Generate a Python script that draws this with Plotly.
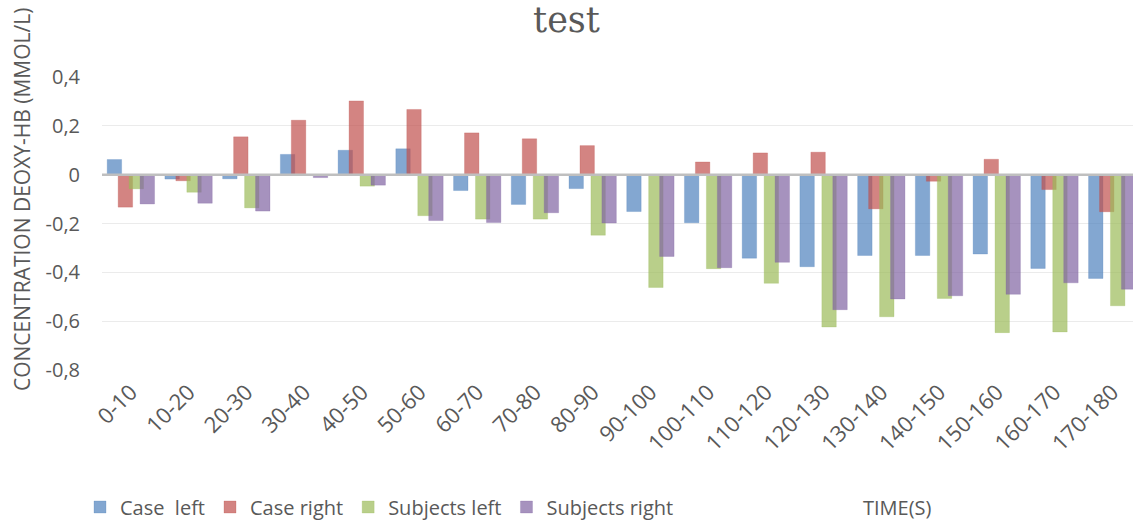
import plotly.graph_objects as go

# Time windows (seconds)
time_bins = ["0-10", "10-20", "20-30", "30-40", "40-50", "50-60", "60-70", "70-80",
             "80-90", "90-100", "100-110", "110-120", "120-130", "130-140", "140-150",
             "150-160", "160-170", "170-180"]

# Mean change in deoxy-Hb concentration (mmol/L) per window
case_left = [0.062, -0.018, -0.017, 0.083, 0.100, 0.106, -0.065, -0.122, -0.057,
             -0.151, -0.197, -0.342, -0.377, -0.331, -0.331, -0.325, -0.384, -0.425]
case_right = [-0.133, -0.025, 0.155, 0.223, 0.302, 0.267, 0.171, 0.147, 0.119,
              -0.003, 0.052, 0.089, 0.092, -0.140, -0.027, 0.063, -0.061, -0.152]
subjects_left = [-0.058, -0.072, -0.136, 0.0, -0.047, -0.168, -0.182, -0.182, -0.248,
                 -0.462, -0.385, -0.445, -0.624, -0.582, -0.507, -0.647, -0.644, -0.537]
subjects_right = [-0.120, -0.117, -0.149, -0.012, -0.043, -0.188, -0.196, -0.156, -0.198,
                  -0.335, -0.381, -0.359, -0.553, -0.509, -0.496, -0.490, -0.443, -0.469]

# Value axis ticks (comma decimal separator, plain hyphen for negatives)
y_tick_values = [-0.8, -0.6, -0.4, -0.2, 0, 0.2, 0.4]
y_tick_labels = ["-0,8", "-0,6", "-0,4", "-0,2", "0", "0,2", "0,4"]

series_names = ["Case\u00a0 left", "Case right", "Subjects left", "Subjects right"]
series_values = [case_left, case_right, subjects_left, subjects_right]
series_rgb = [(79, 129, 189), (192, 80, 77), (155, 187, 89), (128, 100, 162)]

FONT = "Open Sans"
TEXT_COLOR = "#595959"

BAR_WIDTH = 0.25
BAR_STEP = 0.19
FIRST_OFFSET = -0.41

x_idx = list(range(len(time_bins)))

fig = go.Figure()
for k, (name, vals, (r, g, b)) in enumerate(zip(series_names, series_values, series_rgb)):
    fig.add_trace(go.Bar(
        name=name,
        x=x_idx,
        y=vals,
        width=BAR_WIDTH,
        offset=FIRST_OFFSET + k * BAR_STEP,
        marker=dict(
            color=f"rgba({r},{g},{b},0.7)",
            line=dict(color=f"rgba({r},{g},{b},0.25)", width=1),
        ),
    ))

# category axis baseline at zero, drawn over the bars
fig.add_shape(type="line", xref="paper", yref="y", x0=0, x1=1, y0=0, y1=0,
              line=dict(color="#BFBFBF", width=2.5), layer="above")

fig.update_layout(
    width=1133,
    height=521,
    margin=dict(l=102, r=0, t=77, b=151),
    paper_bgcolor="white",
    plot_bgcolor="white",
    barmode="overlay",
    showlegend=True,
    title=dict(
        text="test",
        x=0.5, xref="container", xanchor="center",
        y=1 - 20 / 521, yref="container", yanchor="middle",
        font=dict(family="DejaVu Serif", size=35, color=TEXT_COLOR),
    ),
    legend=dict(
        orientation="h",
        xref="container", yref="container",
        x=80 / 1133, xanchor="left",
        y=1 - 507 / 521, yanchor="middle",
        font=dict(family=FONT, size=20, color=TEXT_COLOR),
        itemwidth=30,
        traceorder="normal",
        bgcolor="rgba(0,0,0,0)",
    ),
    xaxis=dict(
        tickmode="array",
        tickvals=x_idx,
        ticktext=time_bins,
        tickangle=-45,
        range=[-0.5, 17.36],
        showgrid=False,
        zeroline=False,
        showline=False,
        ticks="",
        ticklabelstandoff=4,
        tickfont=dict(family=FONT, size=22, color=TEXT_COLOR),
    ),
    yaxis=dict(
        range=[-0.8, 0.4],
        tickmode="array",
        tickvals=y_tick_values,
        ticktext=y_tick_labels,
        showgrid=True,
        gridcolor="#EBEBEB",
        gridwidth=1.2,
        zeroline=False,
        showline=False,
        ticks="",
        ticklabelstandoff=21,
        tickfont=dict(family=FONT, size=20, color=TEXT_COLOR),
    ),
    annotations=[
        dict(
            text="CONCENTRATION DEOXY-HB (MMOL/L)",
            xref="paper", yref="paper",
            x=(22 - 102) / 1031, y=(370 - 200) / 293,
            xanchor="center", yanchor="middle",
            textangle=-90, showarrow=False,
            font=dict(family=FONT, size=21, color=TEXT_COLOR),
        ),
        dict(
            text="TIME(S)",
            xref="paper", yref="paper",
            x=(897 - 102) / 1031, y=(370 - 508) / 293,
            xanchor="center", yanchor="middle",
            showarrow=False,
            font=dict(family=FONT, size=20, color=TEXT_COLOR),
        ),
    ],
)

fig.write_html("out.html")
